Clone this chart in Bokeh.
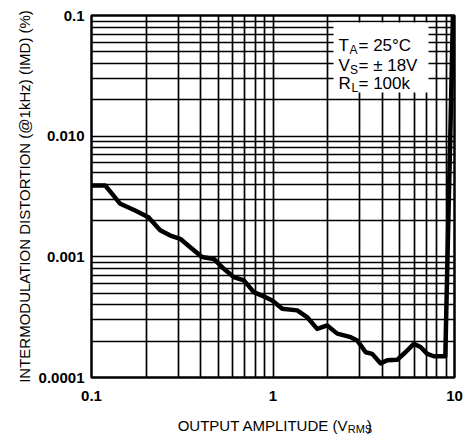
import math
from bokeh.plotting import figure
from bokeh.layouts import column
from bokeh.models import FixedTicker, CustomJSTickFormatter, Label, BoxAnnotation, Range1d
from bokeh.embed import file_html
from bokeh.resources import INLINE

# ---- data ----
amplitude = [0.1, 0.119, 0.132, 0.144, 0.174, 0.206, 0.239, 0.272, 0.308, 0.350,
             0.406, 0.472, 0.536, 0.608, 0.691, 0.784, 0.909, 0.99, 1.125, 1.36,
             1.54, 1.75, 1.99, 2.26, 2.68, 2.91, 3.24, 3.52, 3.91, 4.26,
             4.83, 5.37, 5.97, 6.50, 7.08, 7.70, 8.55, 8.9, 9.15, 9.48, 9.8]
imd = [0.0039, 0.0039, 0.00323, 0.00275, 0.00242, 0.00213, 0.00166, 0.00150, 0.00141, 0.00120,
       0.000996, 0.00096, 0.000796, 0.000679, 0.000638, 0.000510, 0.000463, 0.000435, 0.000372, 0.000360,
       0.000317, 0.000253, 0.000270, 0.000231, 0.000216, 0.000203, 0.000162, 0.000157, 0.000131, 0.000139,
       0.000140, 0.000162, 0.000190, 0.000179, 0.000157, 0.000150, 0.000150, 0.000150, 0.001, 0.01, 0.1]

x_tick_values = [0.1, 1, 10]
x_tick_labels = ["0.1", "1", "10"]
y_tick_values = [0.0001, 0.001, 0.01, 0.1]
y_tick_labels = ["0.0001", "0.001", "0.010", "0.1"]

x_title = "OUTPUT AMPLITUDE (V"
x_title_sub = "RMS"
x_title_end = ")"
y_title = "INTERMODULATION DISTORTION (@1kHz) (IMD) (%)"
cond_lines = [("T", "A", "= 25°C"), ("V", "S", "= ± 18V"), ("R", "L", "= 100k")]

FONT = "Liberation Sans"

# ---- layout (pixels of the 476x434 canvas) ----
W, H_MAIN, H_TITLE = 476, 408, 26
FL, FR, FT, FB = 91, 454, 15, 377   # plot frame


def px2x(px):
    return 10 ** (-1 + 2 * (px - FL) / (FR - FL))


def py2y(py):
    return 10 ** (-1 - 3 * (py - FT) / (FB - FT))


p = figure(width=W, height=H_MAIN, x_axis_type="log", y_axis_type="log",
           x_range=Range1d(0.1, 10), y_range=Range1d(0.0001, 0.1),
           output_backend="svg", toolbar_location=None,
           min_border_left=FL, min_border_right=W - FR, min_border_top=FT,
           min_border_bottom=H_MAIN - FB)
p.background_fill_color = "white"
p.border_fill_color = "white"
p.outline_line_color = "black"
p.outline_line_width = 2.5
p.outline_line_alpha = 1

x_minor = [m * 10 ** e for e in range(-1, 1) for m in range(2, 10)]
y_minor = [m * 10 ** e for e in range(-4, -1) for m in range(2, 10)]
p.xaxis.ticker = FixedTicker(ticks=x_tick_values, minor_ticks=x_minor)
p.yaxis.ticker = FixedTicker(ticks=y_tick_values, minor_ticks=y_minor)

fmt_code = """
for (let i = 0; i < vals.length; i++) {
  if (Math.abs(Math.log10(tick / vals[i])) < 1e-6) return labs[i];
}
return "";
"""
p.xaxis.formatter = CustomJSTickFormatter(args=dict(vals=x_tick_values, labs=x_tick_labels), code=fmt_code)
p.yaxis.formatter = CustomJSTickFormatter(args=dict(vals=y_tick_values, labs=y_tick_labels), code=fmt_code)

for ax in (p.xaxis, p.yaxis):
    ax.axis_line_color = None
    ax.major_tick_out = 0
    ax.major_tick_in = 0
    ax.minor_tick_out = 0
    ax.minor_tick_in = 0
    ax.major_label_text_font = FONT
    ax.major_label_text_font_size = "15px"
    ax.major_label_text_font_style = "bold"
    ax.major_label_text_color = "black"
p.xaxis.major_label_standoff = 13
p.yaxis.major_label_standoff = 7

p.yaxis.axis_label = y_title
p.yaxis.axis_label_text_font = FONT
p.yaxis.axis_label_text_font_size = "15px"
p.yaxis.axis_label_text_font_style = "normal"
p.yaxis.axis_label_text_color = "black"
p.yaxis.axis_label_standoff = 3

for g in (p.xgrid, p.ygrid):
    g.grid_line_color = "black"
    g.grid_line_width = 1.7
    g.grid_line_alpha = 1
    g.minor_grid_line_color = "black"
    g.minor_grid_line_width = 1.7
    g.minor_grid_line_alpha = 1

p.line(amplitude, imd, line_width=4.5, color="black", line_join="round", line_cap="round")

# white box behind the conditions text
p.add_layout(BoxAnnotation(left=px2x(333), right=px2x(428), top=py2y(22), bottom=py2y(92),
                           fill_color="white", fill_alpha=1, line_color=None))


def lab(fig, text, x, y, size, align="left", baseline="alphabetic"):
    fig.add_layout(Label(x=x, y=y, text=text, text_font=FONT, text_font_size=f"{size}px",
                         text_align=align, text_baseline=baseline, text_color="black"))


bases = [45, 65, 83]
sub_x = [349, 349.5, 351]
for (main, sub, rest), b, sx in zip(cond_lines, bases, sub_x):
    lab(p, main, px2x(338), py2y(b), 17)
    lab(p, sub, px2x(sx), py2y(b + 4), 12)
    lab(p, rest, px2x(358), py2y(b), 17)

# ---- x-axis title strip (pixel coordinates, y downward) ----
q = figure(width=W, height=H_TITLE, x_range=Range1d(0, W), y_range=Range1d(H_TITLE, 0),
           output_backend="svg", toolbar_location=None, min_border=0,
           x_axis_location=None, y_axis_location=None)
q.outline_line_color = None
q.xgrid.visible = False
q.ygrid.visible = False
q.background_fill_color = "white"
q.border_fill_color = "white"

base = 425 - H_MAIN
lab(q, x_title, 337, base, 15, align="right")
lab(q, x_title_sub, 336, base + 3, 11)
lab(q, x_title_end, 361, base, 15)

layout = column(p, q, spacing=0)
open("out.html", "w").write(file_html(layout, INLINE))
